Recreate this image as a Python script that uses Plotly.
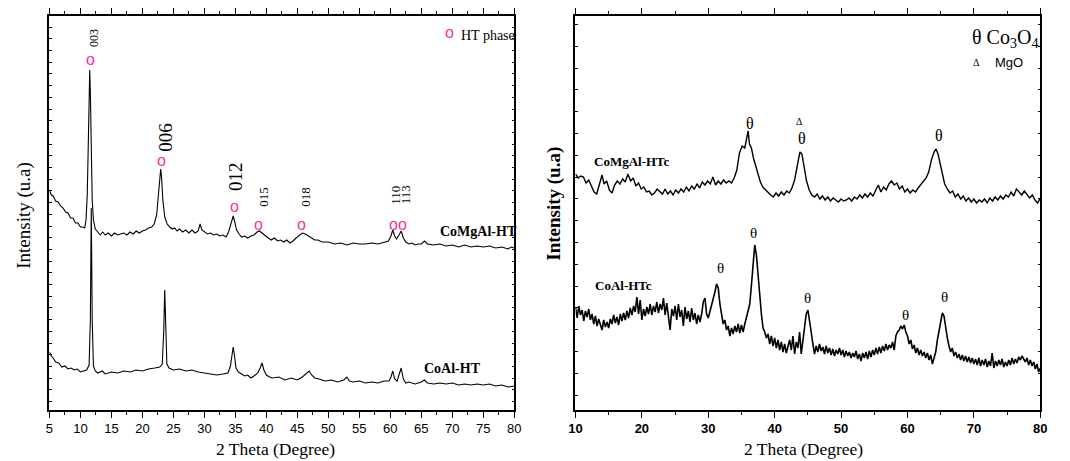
import plotly.graph_objects as go

# ---------------- data (intensity in arbitrary units) ----------------
# Left panel: as-synthesised hydrotalcites
comgal_ht_2theta = [5.0, 5.3, 5.6, 6.0, 6.4, 6.8, 7.2, 7.6, 8.0, 8.4, 8.8, 9.2, 9.6, 10.0, 10.4, 10.7,
                    10.9, 11.1, 11.25, 11.4, 11.5, 11.6, 11.75, 11.9, 12.1, 12.4, 12.8, 13.2, 13.6, 14.0,
                    14.5, 15.0, 15.5, 16.0, 16.5, 17.0, 17.5, 18.0, 18.5, 19.0, 19.5, 20.0, 20.5, 21.0,
                    21.5, 21.9, 22.3, 22.6, 22.8, 22.95, 23.1, 23.3, 23.6, 24.0, 24.4, 24.8, 25.2, 25.6,
                    26.0, 26.5, 27.0, 27.5, 28.0, 28.5, 29.0, 29.3, 29.6, 30.0, 30.5, 31.0, 31.5, 32.0,
                    32.5, 33.0, 33.5, 33.9, 34.2, 34.5, 34.65, 34.9, 35.2, 35.6, 36.0, 36.5, 37.0, 37.5,
                    38.0, 38.5, 38.9, 39.3, 39.8, 40.3, 40.8, 41.3, 41.8, 42.3, 42.8, 43.3, 43.8, 44.3,
                    44.8, 45.3, 45.8, 46.3, 46.8, 47.3, 47.8, 48.3, 49.0, 50.0, 51.0, 52.0, 53.0, 54.0,
                    55.0, 56.0, 57.0, 58.0, 59.0, 59.7, 60.1, 60.4, 60.7, 61.0, 61.4, 61.75, 62.1, 62.5,
                    63.0, 63.5, 64.0, 64.5, 65.0, 65.5, 66.0, 67.0, 68.0, 69.0, 70.0, 71.0, 72.0, 73.0,
                    74.0, 75.0, 76.0, 77.0, 78.0, 79.0, 79.5, 80.0]
comgal_ht_int = [220, 215, 214, 209, 208, 204, 202, 198, 197, 192, 192, 187, 187, 183, 183, 182,
                 190, 215, 260, 320, 340, 318, 255, 210, 190, 181, 178, 175, 178, 175,
                 177, 174, 177, 175, 176, 177, 175, 178, 176, 179, 177, 179, 180, 182,
                 183, 186, 195, 215, 235, 241, 232, 210, 193, 186, 183, 181, 182, 179,
                 181, 178, 180, 177, 180, 177, 179, 186, 180, 178, 176, 177, 175, 176,
                 174, 175, 173, 178, 185, 193, 194, 188, 180, 176, 173, 174, 172, 174,
                 175, 178, 179, 177, 174, 172, 170, 172, 169, 170, 168, 170, 167, 169,
                 172, 175, 177, 176, 174, 172, 170, 170, 168, 168, 166, 167, 165, 167,
                 166, 166, 167, 166, 168, 169, 174, 180, 174, 171, 175, 179, 172, 168,
                 166, 167, 165, 166, 166, 169, 166, 165, 166, 164, 165, 163, 165, 163,
                 164, 163, 164, 162, 163, 161, 163, 162]

coal_ht_2theta = [5.0, 5.3, 5.6, 6.0, 6.5, 7.0, 7.5, 8.0, 8.5, 9.0, 9.5, 10.0, 10.5, 11.0, 11.4,
                  11.6, 11.75, 11.9, 12.1, 12.4, 12.8, 13.5, 14.0, 15.0, 16.0, 17.0, 18.0, 19.0,
                  20.0, 21.0, 22.0, 22.8, 23.2, 23.45, 23.6, 23.75, 23.95, 24.3, 25.0, 26.0, 27.0,
                  28.0, 29.0, 30.0, 31.0, 32.0, 33.0, 33.8, 34.2, 34.5, 34.65, 34.85, 35.1, 35.5,
                  36.0, 36.5, 37.0, 37.5, 38.0, 38.6, 39.0, 39.3, 39.6, 40.0, 40.5, 41.0, 42.0,
                  43.0, 44.0, 45.0, 45.8, 46.4, 46.9, 47.3, 47.8, 48.5, 49.5, 50.5, 51.5, 52.5,
                  53.0, 53.4, 54.0, 55.0, 56.0, 57.0, 58.0, 59.0, 59.8, 60.1, 60.4, 60.7, 61.1,
                  61.45, 61.75, 62.1, 62.5, 63.0, 64.0, 65.0, 65.5, 66.0, 67.0, 68.0, 69.0, 70.0,
                  71.0, 72.0, 73.0, 74.0, 75.0, 76.0, 77.0, 78.0, 79.0, 80.0]
coal_ht_int = [58, 54, 52, 48, 47, 43, 44, 41, 42, 40, 41, 38, 39, 40, 45,
               90, 202, 90, 44, 39, 37, 39, 36, 38, 37, 39, 38, 40,
               39, 41, 42, 43, 46, 80, 120, 80, 46, 42, 40, 41, 39,
               40, 38, 37, 36, 35, 36, 37, 44, 58, 63, 55, 42, 38,
               36, 34, 35, 32, 34, 37, 42, 47, 40, 35, 33, 32, 33,
               30, 32, 30, 33, 36, 39, 35, 32, 31, 29, 30, 28, 30,
               33, 29, 28, 29, 27, 28, 27, 29, 29, 33, 39, 31, 29,
               36, 42, 31, 27, 28, 26, 28, 30, 27, 26, 27, 26, 27,
               25, 26, 25, 26, 25, 26, 24, 25, 23, 24]

# Right panel: calcined samples
comgal_htc_2theta = [10.0, 10.4, 10.8, 11.2, 11.6, 12.0, 12.4, 12.8, 13.2, 13.6, 14.0, 14.3, 14.7,
                     15.1, 15.5, 15.9, 16.3, 16.7, 17.1, 17.5, 17.9, 18.3, 18.7, 19.1, 19.5, 19.9,
                     20.3, 20.7, 21.1, 21.5, 21.9, 22.3, 22.7, 23.1, 23.5, 23.9, 24.3, 24.7, 25.1,
                     25.5, 25.9, 26.3, 26.7, 27.1, 27.5, 27.9, 28.3, 28.7, 29.1, 29.5, 29.9, 30.3,
                     30.7, 31.1, 31.5, 31.9, 32.3, 32.7, 33.1, 33.5, 33.9, 34.3, 34.7, 35.1, 35.5,
                     35.8, 36.0, 36.2, 36.5, 36.8, 37.1, 37.4, 37.8, 38.2, 38.6, 39.0, 39.4, 39.8,
                     40.2, 40.6, 41.0, 41.4, 41.8, 42.2, 42.6, 43.0, 43.4, 43.8, 44.1, 44.4, 44.8,
                     45.2, 45.6, 46.0, 46.4, 46.8, 47.2, 47.6, 48.0, 48.4, 48.8, 49.2, 49.6, 50.0,
                     50.4, 50.8, 51.2, 51.6, 52.0, 52.4, 52.8, 53.2, 53.6, 54.0, 54.4, 54.8, 55.2,
                     55.6, 56.0, 56.4, 56.8, 57.2, 57.6, 58.0, 58.4, 58.8, 59.2, 59.6, 60.0, 60.4,
                     60.8, 61.2, 61.6, 62.0, 62.4, 62.8, 63.2, 63.6, 64.0, 64.3, 64.6, 64.9, 65.2,
                     65.6, 66.0, 66.4, 66.8, 67.2, 67.6, 68.0, 68.4, 68.8, 69.2, 69.6, 70.0, 70.4,
                     70.8, 71.2, 71.6, 72.0, 72.4, 72.8, 73.2, 73.6, 74.0, 74.4, 74.8, 75.2, 75.6,
                     76.0, 76.4, 76.8, 77.2, 77.6, 78.0, 78.4, 78.8, 79.2, 79.6, 80.0]
comgal_htc_int = [236, 232, 234, 233, 227, 230, 224, 218, 216, 226, 235, 226, 229,
                  220, 217, 225, 229, 226, 231, 228, 236, 229, 232, 224, 227, 221,
                  223, 218, 219, 215, 217, 221, 218, 216, 221, 216, 219, 215, 220,
                  217, 221, 218, 223, 219, 224, 221, 226, 222, 228, 225, 229, 226,
                  233, 225, 229, 226, 230, 227, 229, 227, 232, 240, 257, 264, 262,
                  272, 279, 266, 262, 252, 245, 236, 229, 223, 220, 218, 215, 213,
                  217, 214, 218, 215, 219, 217, 222, 230, 246, 258, 256, 245, 229,
                  220, 215, 213, 216, 211, 214, 210, 213, 209, 212, 210, 208, 211,
                  209, 210, 212, 209, 213, 211, 215, 212, 216, 213, 217, 214, 220,
                  225, 218, 223, 220, 226, 229, 225, 227, 221, 224, 218, 221, 217,
                  220, 218, 222, 225, 228, 232, 238, 250, 258, 261, 256, 246, 236,
                  226, 221, 217, 219, 213, 216, 211, 214, 209, 212, 208, 211, 207,
                  210, 208, 211, 207, 212, 209, 213, 210, 214, 211, 215, 213, 218,
                  214, 221, 218, 215, 219, 216, 212, 215, 210, 207, 212]

coal_htc_2theta_start = 10.0
coal_htc_2theta_step = 0.25
coal_htc_int = [103, 92, 104, 95, 100, 89, 99, 93, 101, 90, 96, 86, 94, 84, 91, 86, 80, 90, 83, 88,
                82, 91, 86, 95, 87, 93, 85, 96, 89, 97, 90, 99, 92, 102, 95, 104, 98, 113, 96, 110,
                90, 101, 94, 103, 96, 106, 95, 104, 98, 108, 97, 106, 100, 112, 95, 107, 92, 80, 101, 94,
                104, 90, 106, 93, 100, 84, 103, 91, 99, 88, 102, 90, 97, 86, 95, 88, 96, 108, 112, 96,
                92, 98, 104, 112, 118, 126, 122, 106, 94, 86, 90, 80, 84, 74, 82, 76, 84, 78, 86, 77,
                85, 78, 86, 92, 98, 106, 125, 148, 165, 155, 132, 110, 96, 82, 78, 72, 76, 66, 74, 64,
                72, 62, 70, 60, 68, 58, 66, 57, 64, 70, 60, 74, 56, 68, 62, 78, 56, 70, 84, 96,
                100, 86, 78, 66, 56, 64, 58, 66, 59, 63, 56, 64, 57, 62, 55, 61, 54, 60, 56, 62,
                55, 60, 53, 59, 54, 58, 52, 57, 53, 59, 51, 56, 49, 57, 52, 58, 51, 59, 53, 60,
                55, 62, 56, 63, 57, 64, 59, 66, 60, 65, 62, 68, 60, 74, 78, 80, 84, 81, 85, 78,
                74, 66, 70, 61, 65, 57, 62, 55, 60, 54, 58, 52, 57, 50, 55, 46, 52, 58, 70, 80,
                90, 97, 94, 82, 72, 64, 58, 62, 54, 58, 52, 56, 50, 55, 49, 54, 48, 53, 47, 52,
                46, 51, 45, 52, 44, 50, 45, 51, 43, 49, 44, 57, 42, 49, 44, 50, 45, 51, 43, 48,
                44, 50, 45, 52, 46, 51, 47, 53, 50, 54, 51, 48, 52, 45, 50, 44, 48, 41, 46, 38, 42]
coal_htc_2theta = [round(coal_htc_2theta_start + coal_htc_2theta_step * i, 2) for i in range(len(coal_htc_int))]

# Labels
left_x_ticks = [5, 10, 15, 20, 25, 30, 35, 40, 45, 50, 55, 60, 65, 70, 75, 80]
right_x_ticks = [10, 20, 30, 40, 50, 60, 70, 80]
ht_reflections = ["003", "006", "012", "015", "018", "110", "113"]

# ---------------- figure ----------------
SERIF = "Liberation Serif"
SANS = "Liberation Sans"
PINK = "#ff2d96"

fig = go.Figure()
fig.add_trace(go.Scatter(x=comgal_ht_2theta, y=comgal_ht_int, mode="lines",
                         line=dict(color="black", width=1.1), xaxis="x", yaxis="y", showlegend=False))
fig.add_trace(go.Scatter(x=coal_ht_2theta, y=coal_ht_int, mode="lines",
                         line=dict(color="black", width=1.1), xaxis="x", yaxis="y", showlegend=False))
fig.add_trace(go.Scatter(x=comgal_htc_2theta, y=comgal_htc_int, mode="lines",
                         line=dict(color="black", width=1.4), xaxis="x2", yaxis="y2", showlegend=False))
fig.add_trace(go.Scatter(x=coal_htc_2theta, y=coal_htc_int, mode="lines",
                         line=dict(color="black", width=1.6), xaxis="x2", yaxis="y2", showlegend=False))

ann = []


def add(text, x, y, xref="x", yref="y", size=13, family=SERIF, color="black", angle=0,
        xanchor="center", yanchor="middle"):
    ann.append(dict(text=text, x=x, y=y, xref=xref, yref=yref, showarrow=False,
                    font=dict(size=size, family=family, color=color), textangle=angle,
                    xanchor=xanchor, yanchor=yanchor))


# HT reflections (left panel)
lbl_pos = {"003": (12.2, 372, 12), "006": (23.6, 273, 19), "012": (34.95, 233, 19),
           "015": (39.4, 213, 13), "018": (46.2, 213, 13), "110": (60.7, 215, 13), "113": (62.4, 215, 13)}
o_pos = [(11.7, 351), (23.1, 250), (34.8, 204), (38.8, 186), (45.6, 186), (60.55, 186), (61.9, 186)]
for name in ht_reflections:
    x, y, s = lbl_pos[name]
    add(name, x, y, size=s, angle=-90)
for x, y in o_pos:
    add("o", x, y, size=16, family=SANS, color=PINK)
add("o", 69.6, 378, size=16, family=SANS, color=PINK)
add("HT phase", 71.1, 375, size=14, xanchor="left")
add("<b>CoMgAl-HT</b>", 67.7, 179, size=14, xanchor="left")
add("<b>CoAl-HT</b>", 70.1, 42, size=14)

# Right panel labels
add("θ Co<sub>3</sub>O<sub>4</sub>", 79.9, 372, xref="x2", yref="y2", size=20, xanchor="right")
add("Δ", 70.4, 348, xref="x2", yref="y2", size=10)
add("MgO", 72.9, 348, xref="x2", yref="y2", size=13, family=SANS, xanchor="left")
add("θ", 36.3, 287, xref="x2", yref="y2", size=16)
add("Δ", 43.75, 289, xref="x2", yref="y2", size=10)
add("θ", 44.1, 272, xref="x2", yref="y2", size=16)
add("θ", 64.75, 275, xref="x2", yref="y2", size=16)
add("<b>CoMgAl-HTc</b>", 18.55, 249, xref="x2", yref="y2", size=13)
add("θ", 31.8, 142, xref="x2", yref="y2", size=15)
add("θ", 36.8, 177, xref="x2", yref="y2", size=15)
add("θ", 45.0, 112, xref="x2", yref="y2", size=15)
add("θ", 59.65, 95, xref="x2", yref="y2", size=15)
add("θ", 65.5, 113, xref="x2", yref="y2", size=15)
add("<b>CoAl-HTc</b>", 17.2, 125, xref="x2", yref="y2", size=13)

# Axis titles
add("Intensity (u.a)", 17 / 1070, 1 - 215 / 461, xref="paper", yref="paper", size=19, angle=-90)
add("<b>Intensity (u.a)</b>", 554 / 1070, 1 - 204 / 461, xref="paper", yref="paper", size=19, angle=-90)
add("2 Theta (Degree)", 272 / 1070, 1 - 449 / 461, xref="paper", yref="paper", size=17.5)
add("2 Theta (Degree)", 807 / 1070, 1 - 449 / 461, xref="paper", yref="paper", size=17.5)

y_dom = [1 - 410 / 461, 1 - 16 / 461]
xa_common = dict(showgrid=False, zeroline=False, showline=True, linecolor="black", linewidth=1.5,
                 mirror="ticks", ticks="outside", ticklen=6, tickwidth=1.2, tickcolor="black")
ya_common = dict(showgrid=False, zeroline=False, showline=True, linecolor="black", linewidth=1.5,
                 mirror="ticks", ticks="inside", ticklen=3, tickwidth=1, tickcolor="black",
                 showticklabels=False)

fig.update_layout(
    width=1070, height=461, margin=dict(l=0, r=0, t=0, b=0),
    paper_bgcolor="white", plot_bgcolor="white",
    xaxis=dict(domain=[43 / 1070, 514 / 1070], range=[5, 80], tickmode="array", tickvals=left_x_ticks,
               ticktext=[str(v) for v in left_x_ticks], anchor="y",
               tickfont=dict(family=SANS, size=13, color="black"),
               minor=dict(dtick=2.5, tick0=5, ticks="outside", ticklen=3, tickcolor="black", showgrid=False),
               **xa_common),
    yaxis=dict(domain=y_dom, range=[0, 394], tick0=8.5, dtick=11.7, anchor="x", **ya_common),
    xaxis2=dict(domain=[576 / 1070, 1047 / 1070], range=[10, 80], tickmode="array", tickvals=right_x_ticks,
                ticktext=["<b>%d</b>" % v for v in right_x_ticks], anchor="y2",
                tickfont=dict(family=SANS, size=13, color="black"),
                minor=dict(dtick=5, tick0=10, ticks="outside", ticklen=3, tickcolor="black", showgrid=False),
                **xa_common),
    yaxis2=dict(domain=y_dom, range=[0, 394], tick0=15, dtick=21.8, anchor="x2", **ya_common),
    annotations=ann,
)

fig.write_html("out.html")
